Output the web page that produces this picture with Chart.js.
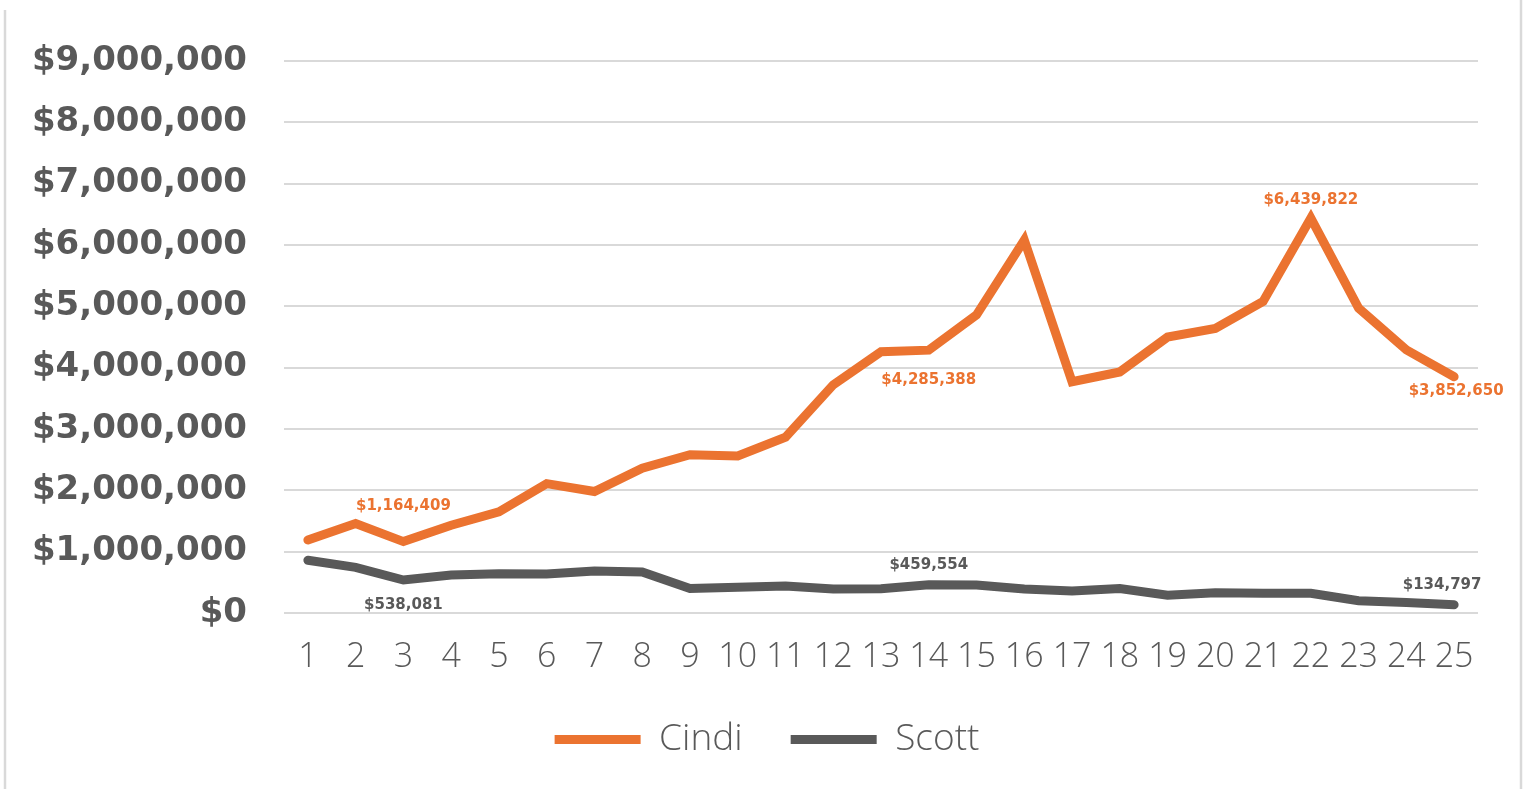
<!DOCTYPE html>
<html>
<head>
<meta charset="utf-8">
<script src="https://cdn.jsdelivr.net/npm/chart.js@4.4.1/dist/chart.umd.min.js"></script>
<style>
  html, body { margin: 0; padding: 0; background: #fff; }
  #wrap { width: 1524px; height: 789px; position: relative; }
</style>
</head>
<body>
<div id="wrap"><canvas id="grafico" width="1524" height="789"></canvas></div>
<script>
const periods = ['1','2','3','4','5','6','7','8','9','10','11','12','13','14','15','16','17','18','19','20','21','22','23','24','25'];
const cindi = [1190000, 1460000, 1164409, 1430000, 1650000, 2110000, 1980000, 2360000, 2580000, 2560000, 2865000, 3720000, 4260000, 4285388, 4860000, 6080000, 3770000, 3930000, 4500000, 4640000, 5080000, 6439822, 4970000, 4290000, 3852650];
const scott = [860000, 745000, 538081, 620000, 640000, 636000, 685000, 670000, 400000, 420000, 440000, 390000, 395000, 459554, 456000, 390000, 360000, 400000, 290000, 330000, 320000, 320000, 200000, 170000, 134797];
const yMax = 9000000;
const yStep = 1000000;

const ORANGE = '#EB7330';
const GRAY = '#595959';

const money = v => '$' + Math.round(v).toLocaleString('en-US');

// which points get a value label, and where it sits
const labelSpots = [
  [{ i: 2, dx: 0, dy: -35 }, { i: 13, dx: 0, dy: 30 }, { i: 21, dx: 0, dy: -18 }, { i: 24, dx: 2, dy: 14 }],
  [{ i: 2, dx: 0, dy: 25 }, { i: 13, dx: 0, dy: -20 }, { i: 24, dx: -12, dy: -20 }]
];

const valueLabels = {
  id: 'valueLabels',
  afterDatasetsDraw(chart) {
    const ctx = chart.ctx;
    ctx.save();
    ctx.font = 'bold 15px "DejaVu Sans"';
    ctx.textAlign = 'center';
    ctx.textBaseline = 'middle';
    chart.data.datasets.forEach((ds, d) => {
      const meta = chart.getDatasetMeta(d);
      ctx.fillStyle = ds.borderColor;
      labelSpots[d].forEach(s => {
        const pt = meta.data[s.i];
        ctx.fillText(money(ds.data[s.i]), pt.x + s.dx, pt.y + s.dy);
      });
    });
    ctx.restore();
  }
};

const frame = {
  id: 'frame',
  afterLayout(chart) {
    // nudge the legend so it sits centred under the plot like the original
    const lg = chart.legend;
    lg.left += 18; lg.right += 18;
    lg.top -= 5; lg.bottom -= 5;
  },
  beforeDraw(chart) {
    const ctx = chart.ctx;
    ctx.save();
    ctx.fillStyle = '#fff';
    ctx.fillRect(0, 0, chart.width, chart.height);
    ctx.strokeStyle = '#D9D9D9';
    ctx.lineWidth = 2.5;
    ctx.beginPath();
    ctx.moveTo(5, 10); ctx.lineTo(5, chart.height);
    ctx.moveTo(1521, 0); ctx.lineTo(1521, chart.height);
    ctx.stroke();
    ctx.restore();
  }
};

new Chart(document.getElementById('grafico'), {
  type: 'line',
  data: {
    labels: periods,
    datasets: [
      { label: 'Cindi', data: cindi, borderColor: ORANGE, backgroundColor: ORANGE, borderWidth: 9, borderCapStyle: 'round', pointRadius: 0, tension: 0 },
      { label: 'Scott', data: scott, borderColor: GRAY, backgroundColor: GRAY, borderWidth: 9, borderCapStyle: 'round', pointRadius: 0, tension: 0 }
    ]
  },
  options: {
    responsive: false,
    animation: false,
    layout: { padding: { left: 20, right: 46, top: 61, bottom: 16 } },
    plugins: {
      tooltip: { enabled: false },
      legend: {
        position: 'bottom',
        labels: {
          usePointStyle: true,
          pointStyle: 'line',
          pointStyleWidth: 86,
          padding: 48,
          color: GRAY,
          font: { family: '"Open Sans", "DejaVu Sans", sans-serif', size: 37, weight: '300' }
        }
      }
    },
    scales: {
      x: {
        offset: true,
        grid: { display: false, drawTicks: false },
        border: { display: false },
        ticks: {
          color: GRAY,
          padding: 24,
          maxRotation: 0,
          autoSkip: false,
          font: { family: '"Open Sans", "DejaVu Sans", sans-serif', size: 34, weight: '300' }
        },
        afterFit(scale) { scale.height = 65; }
      },
      y: {
        min: 0,
        max: yMax,
        grid: { color: '#D9D9D9', lineWidth: 2, drawTicks: false },
        border: { display: false },
        ticks: {
          stepSize: yStep,
          color: GRAY,
          padding: 37,
          font: { family: '"DejaVu Sans", sans-serif', size: 34, weight: 'bold' },
          callback: v => money(v)
        },
        afterFit(scale) { scale.width = 264; }
      }
    }
  },
  plugins: [frame, valueLabels]
});
</script>
</body>
</html>
